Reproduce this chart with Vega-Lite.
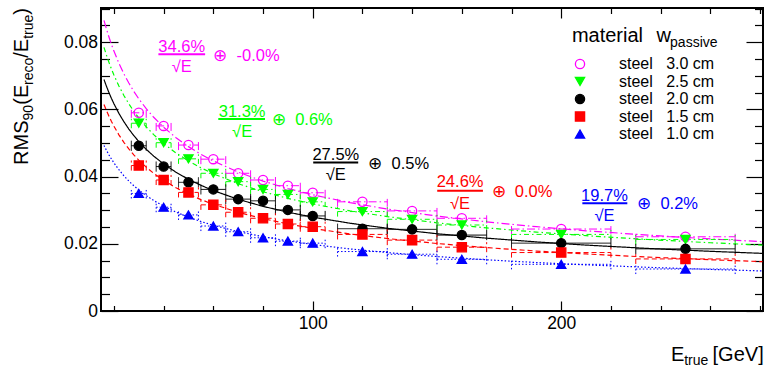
{
  "$schema": "https://vega.github.io/schema/vega-lite/v6.json",
  "width": 662,
  "height": 303,
  "autosize": {"type": "none"},
  "padding": {"left": 101, "top": 8, "right": 3, "bottom": 58},
  "background": "white",
  "config": {
    "font": "Liberation Sans",
    "view": {"stroke": "black", "strokeWidth": 2},
    "axis": {"grid": false, "domain": false, "tickColor": "black", "tickWidth": 1.2, "labelColor": "black", "labelFont": "Liberation Sans", "labelFontSize": 17.5, "title": null, "labelOverlap": false, "labelFlush": false},
    "text": {"font": "Liberation Sans"}
  },
  "datasets": {
    "pts": [
      {"w":"3.0 cm","E":30,"elo":27,"ehi":33,"rms":0.0590,"lo":0.0575,"hi":0.0605},
      {"w":"3.0 cm","E":40,"elo":37,"ehi":43,"rms":0.0551,"lo":0.0536,"hi":0.0566},
      {"w":"3.0 cm","E":50,"elo":46,"ehi":54,"rms":0.0494,"lo":0.0479,"hi":0.0509},
      {"w":"3.0 cm","E":60,"elo":55,"ehi":65,"rms":0.0452,"lo":0.0437,"hi":0.0467},
      {"w":"3.0 cm","E":70,"elo":65,"ehi":75,"rms":0.0410,"lo":0.0395,"hi":0.0425},
      {"w":"3.0 cm","E":80,"elo":75,"ehi":85,"rms":0.0390,"lo":0.0375,"hi":0.0405},
      {"w":"3.0 cm","E":90,"elo":85,"ehi":95,"rms":0.0373,"lo":0.0358,"hi":0.0388},
      {"w":"3.0 cm","E":100,"elo":95,"ehi":105,"rms":0.0352,"lo":0.0337,"hi":0.0367},
      {"w":"3.0 cm","E":120,"elo":110,"ehi":130,"rms":0.0325,"lo":0.0310,"hi":0.0340},
      {"w":"3.0 cm","E":140,"elo":130,"ehi":150,"rms":0.0298,"lo":0.0283,"hi":0.0313},
      {"w":"3.0 cm","E":160,"elo":150,"ehi":170,"rms":0.0276,"lo":0.0261,"hi":0.0291},
      {"w":"3.0 cm","E":200,"elo":180,"ehi":220,"rms":0.0244,"lo":0.0229,"hi":0.0259},
      {"w":"3.0 cm","E":250,"elo":230,"ehi":270,"rms":0.0221,"lo":0.0206,"hi":0.0236},
      {"w":"2.5 cm","E":30,"elo":27,"ehi":33,"rms":0.0559,"lo":0.0544,"hi":0.0574},
      {"w":"2.5 cm","E":40,"elo":37,"ehi":43,"rms":0.0501,"lo":0.0486,"hi":0.0516},
      {"w":"2.5 cm","E":50,"elo":46,"ehi":54,"rms":0.0453,"lo":0.0438,"hi":0.0468},
      {"w":"2.5 cm","E":60,"elo":55,"ehi":65,"rms":0.0410,"lo":0.0395,"hi":0.0425},
      {"w":"2.5 cm","E":70,"elo":65,"ehi":75,"rms":0.0385,"lo":0.0370,"hi":0.0400},
      {"w":"2.5 cm","E":80,"elo":75,"ehi":85,"rms":0.0362,"lo":0.0347,"hi":0.0377},
      {"w":"2.5 cm","E":90,"elo":85,"ehi":95,"rms":0.0347,"lo":0.0332,"hi":0.0362},
      {"w":"2.5 cm","E":100,"elo":95,"ehi":105,"rms":0.0325,"lo":0.0310,"hi":0.0340},
      {"w":"2.5 cm","E":120,"elo":110,"ehi":130,"rms":0.0296,"lo":0.0281,"hi":0.0311},
      {"w":"2.5 cm","E":140,"elo":130,"ehi":150,"rms":0.0273,"lo":0.0258,"hi":0.0288},
      {"w":"2.5 cm","E":160,"elo":150,"ehi":170,"rms":0.0256,"lo":0.0241,"hi":0.0271},
      {"w":"2.5 cm","E":200,"elo":180,"ehi":220,"rms":0.0228,"lo":0.0213,"hi":0.0243},
      {"w":"2.5 cm","E":250,"elo":230,"ehi":270,"rms":0.0213,"lo":0.0198,"hi":0.0228},
      {"w":"2.0 cm","E":30,"elo":27,"ehi":33,"rms":0.0492,"lo":0.0477,"hi":0.0507},
      {"w":"2.0 cm","E":40,"elo":37,"ehi":43,"rms":0.0430,"lo":0.0415,"hi":0.0445},
      {"w":"2.0 cm","E":50,"elo":46,"ehi":54,"rms":0.0383,"lo":0.0368,"hi":0.0398},
      {"w":"2.0 cm","E":60,"elo":55,"ehi":65,"rms":0.0362,"lo":0.0347,"hi":0.0377},
      {"w":"2.0 cm","E":70,"elo":65,"ehi":75,"rms":0.0333,"lo":0.0318,"hi":0.0348},
      {"w":"2.0 cm","E":80,"elo":75,"ehi":85,"rms":0.0328,"lo":0.0313,"hi":0.0343},
      {"w":"2.0 cm","E":90,"elo":85,"ehi":95,"rms":0.0301,"lo":0.0286,"hi":0.0316},
      {"w":"2.0 cm","E":100,"elo":95,"ehi":105,"rms":0.0283,"lo":0.0268,"hi":0.0298},
      {"w":"2.0 cm","E":120,"elo":110,"ehi":130,"rms":0.0245,"lo":0.0230,"hi":0.0260},
      {"w":"2.0 cm","E":140,"elo":130,"ehi":150,"rms":0.0243,"lo":0.0228,"hi":0.0258},
      {"w":"2.0 cm","E":160,"elo":150,"ehi":170,"rms":0.0226,"lo":0.0211,"hi":0.0241},
      {"w":"2.0 cm","E":200,"elo":180,"ehi":220,"rms":0.0202,"lo":0.0187,"hi":0.0217},
      {"w":"2.0 cm","E":250,"elo":230,"ehi":270,"rms":0.0185,"lo":0.0170,"hi":0.0200},
      {"w":"1.5 cm","E":30,"elo":27,"ehi":33,"rms":0.0433,"lo":0.0418,"hi":0.0448},
      {"w":"1.5 cm","E":40,"elo":37,"ehi":43,"rms":0.0390,"lo":0.0375,"hi":0.0405},
      {"w":"1.5 cm","E":50,"elo":46,"ehi":54,"rms":0.0353,"lo":0.0338,"hi":0.0368},
      {"w":"1.5 cm","E":60,"elo":55,"ehi":65,"rms":0.0316,"lo":0.0301,"hi":0.0331},
      {"w":"1.5 cm","E":70,"elo":65,"ehi":75,"rms":0.0294,"lo":0.0279,"hi":0.0309},
      {"w":"1.5 cm","E":80,"elo":75,"ehi":85,"rms":0.0276,"lo":0.0261,"hi":0.0291},
      {"w":"1.5 cm","E":90,"elo":85,"ehi":95,"rms":0.0259,"lo":0.0244,"hi":0.0274},
      {"w":"1.5 cm","E":100,"elo":95,"ehi":105,"rms":0.0251,"lo":0.0236,"hi":0.0266},
      {"w":"1.5 cm","E":120,"elo":110,"ehi":130,"rms":0.0228,"lo":0.0213,"hi":0.0243},
      {"w":"1.5 cm","E":140,"elo":130,"ehi":150,"rms":0.0211,"lo":0.0196,"hi":0.0226},
      {"w":"1.5 cm","E":160,"elo":150,"ehi":170,"rms":0.0190,"lo":0.0175,"hi":0.0205},
      {"w":"1.5 cm","E":200,"elo":180,"ehi":220,"rms":0.0174,"lo":0.0159,"hi":0.0189},
      {"w":"1.5 cm","E":250,"elo":230,"ehi":270,"rms":0.0155,"lo":0.0140,"hi":0.0170},
      {"w":"1.0 cm","E":30,"elo":27,"ehi":33,"rms":0.0350,"lo":0.0335,"hi":0.0365},
      {"w":"1.0 cm","E":40,"elo":37,"ehi":43,"rms":0.0309,"lo":0.0294,"hi":0.0324},
      {"w":"1.0 cm","E":50,"elo":46,"ehi":54,"rms":0.0286,"lo":0.0271,"hi":0.0301},
      {"w":"1.0 cm","E":60,"elo":55,"ehi":65,"rms":0.0253,"lo":0.0238,"hi":0.0268},
      {"w":"1.0 cm","E":70,"elo":65,"ehi":75,"rms":0.0236,"lo":0.0221,"hi":0.0251},
      {"w":"1.0 cm","E":80,"elo":75,"ehi":85,"rms":0.0218,"lo":0.0203,"hi":0.0233},
      {"w":"1.0 cm","E":90,"elo":85,"ehi":95,"rms":0.0208,"lo":0.0193,"hi":0.0223},
      {"w":"1.0 cm","E":100,"elo":95,"ehi":105,"rms":0.0202,"lo":0.0187,"hi":0.0217},
      {"w":"1.0 cm","E":120,"elo":110,"ehi":130,"rms":0.0177,"lo":0.0162,"hi":0.0192},
      {"w":"1.0 cm","E":140,"elo":130,"ehi":150,"rms":0.0169,"lo":0.0154,"hi":0.0184},
      {"w":"1.0 cm","E":160,"elo":150,"ehi":170,"rms":0.0154,"lo":0.0139,"hi":0.0169},
      {"w":"1.0 cm","E":200,"elo":180,"ehi":220,"rms":0.0139,"lo":0.0124,"hi":0.0154},
      {"w":"1.0 cm","E":250,"elo":230,"ehi":270,"rms":0.0125,"lo":0.0110,"hi":0.0140}
    ],
    "fit": [
      {"w":"3.0 cm","E":16,"rms":0.0865},{"w":"3.0 cm","E":17,"rms":0.08392},{"w":"3.0 cm","E":18,"rms":0.08155},{"w":"3.0 cm","E":19,"rms":0.07938},{"w":"3.0 cm","E":20,"rms":0.07737},{"w":"3.0 cm","E":22,"rms":0.07377},{"w":"3.0 cm","E":24,"rms":0.07063},{"w":"3.0 cm","E":26,"rms":0.06786},{"w":"3.0 cm","E":28,"rms":0.06539},{"w":"3.0 cm","E":30,"rms":0.06317},{"w":"3.0 cm","E":33,"rms":0.06023},{"w":"3.0 cm","E":36,"rms":0.05767},{"w":"3.0 cm","E":40,"rms":0.05471},{"w":"3.0 cm","E":45,"rms":0.05158},{"w":"3.0 cm","E":50,"rms":0.04893},{"w":"3.0 cm","E":55,"rms":0.04665},{"w":"3.0 cm","E":60,"rms":0.04467},{"w":"3.0 cm","E":70,"rms":0.04135},{"w":"3.0 cm","E":80,"rms":0.03868},{"w":"3.0 cm","E":90,"rms":0.03647},{"w":"3.0 cm","E":100,"rms":0.0346},{"w":"3.0 cm","E":115,"rms":0.03226},{"w":"3.0 cm","E":130,"rms":0.03035},{"w":"3.0 cm","E":150,"rms":0.02825},{"w":"3.0 cm","E":170,"rms":0.02654},{"w":"3.0 cm","E":190,"rms":0.0251},{"w":"3.0 cm","E":210,"rms":0.02388},{"w":"3.0 cm","E":235,"rms":0.02257},{"w":"3.0 cm","E":260,"rms":0.02146},{"w":"3.0 cm","E":281,"rms":0.02064},
      {"w":"2.5 cm","E":16,"rms":0.07848},{"w":"2.5 cm","E":17,"rms":0.07615},{"w":"2.5 cm","E":18,"rms":0.07402},{"w":"2.5 cm","E":19,"rms":0.07206},{"w":"2.5 cm","E":20,"rms":0.07025},{"w":"2.5 cm","E":22,"rms":0.067},{"w":"2.5 cm","E":24,"rms":0.06417},{"w":"2.5 cm","E":26,"rms":0.06168},{"w":"2.5 cm","E":28,"rms":0.05946},{"w":"2.5 cm","E":30,"rms":0.05746},{"w":"2.5 cm","E":33,"rms":0.05482},{"w":"2.5 cm","E":36,"rms":0.05251},{"w":"2.5 cm","E":40,"rms":0.04985},{"w":"2.5 cm","E":45,"rms":0.04704},{"w":"2.5 cm","E":50,"rms":0.04467},{"w":"2.5 cm","E":55,"rms":0.04263},{"w":"2.5 cm","E":60,"rms":0.04085},{"w":"2.5 cm","E":70,"rms":0.03789},{"w":"2.5 cm","E":80,"rms":0.0355},{"w":"2.5 cm","E":90,"rms":0.03353},{"w":"2.5 cm","E":100,"rms":0.03187},{"w":"2.5 cm","E":115,"rms":0.0298},{"w":"2.5 cm","E":130,"rms":0.0281},{"w":"2.5 cm","E":150,"rms":0.02625},{"w":"2.5 cm","E":170,"rms":0.02474},{"w":"2.5 cm","E":190,"rms":0.02349},{"w":"2.5 cm","E":210,"rms":0.02242},{"w":"2.5 cm","E":235,"rms":0.02128},{"w":"2.5 cm","E":260,"rms":0.02032},{"w":"2.5 cm","E":281,"rms":0.01961},
      {"w":"2.0 cm","E":16,"rms":0.06893},{"w":"2.0 cm","E":17,"rms":0.06688},{"w":"2.0 cm","E":18,"rms":0.06501},{"w":"2.0 cm","E":19,"rms":0.06329},{"w":"2.0 cm","E":20,"rms":0.0617},{"w":"2.0 cm","E":22,"rms":0.05884},{"w":"2.0 cm","E":24,"rms":0.05636},{"w":"2.0 cm","E":26,"rms":0.05416},{"w":"2.0 cm","E":28,"rms":0.05221},{"w":"2.0 cm","E":30,"rms":0.05046},{"w":"2.0 cm","E":33,"rms":0.04813},{"w":"2.0 cm","E":36,"rms":0.04611},{"w":"2.0 cm","E":40,"rms":0.04377},{"w":"2.0 cm","E":45,"rms":0.0413},{"w":"2.0 cm","E":50,"rms":0.03921},{"w":"2.0 cm","E":55,"rms":0.03742},{"w":"2.0 cm","E":60,"rms":0.03585},{"w":"2.0 cm","E":70,"rms":0.03325},{"w":"2.0 cm","E":80,"rms":0.03115},{"w":"2.0 cm","E":90,"rms":0.02942},{"w":"2.0 cm","E":100,"rms":0.02795},{"w":"2.0 cm","E":115,"rms":0.02613},{"w":"2.0 cm","E":130,"rms":0.02463},{"w":"2.0 cm","E":150,"rms":0.023},{"w":"2.0 cm","E":170,"rms":0.02168},{"w":"2.0 cm","E":190,"rms":0.02057},{"w":"2.0 cm","E":210,"rms":0.01962},{"w":"2.0 cm","E":235,"rms":0.01862},{"w":"2.0 cm","E":260,"rms":0.01777},{"w":"2.0 cm","E":281,"rms":0.01715},
      {"w":"1.5 cm","E":16,"rms":0.0615},{"w":"1.5 cm","E":17,"rms":0.05966},{"w":"1.5 cm","E":18,"rms":0.05798},{"w":"1.5 cm","E":19,"rms":0.05644},{"w":"1.5 cm","E":20,"rms":0.05501},{"w":"1.5 cm","E":22,"rms":0.05245},{"w":"1.5 cm","E":24,"rms":0.05021},{"w":"1.5 cm","E":26,"rms":0.04824},{"w":"1.5 cm","E":28,"rms":0.04649},{"w":"1.5 cm","E":30,"rms":0.04491},{"w":"1.5 cm","E":33,"rms":0.04282},{"w":"1.5 cm","E":36,"rms":0.041},{"w":"1.5 cm","E":40,"rms":0.0389},{"w":"1.5 cm","E":45,"rms":0.03667},{"w":"1.5 cm","E":50,"rms":0.03479},{"w":"1.5 cm","E":55,"rms":0.03317},{"w":"1.5 cm","E":60,"rms":0.03176},{"w":"1.5 cm","E":70,"rms":0.0294},{"w":"1.5 cm","E":80,"rms":0.0275},{"w":"1.5 cm","E":90,"rms":0.02593},{"w":"1.5 cm","E":100,"rms":0.0246},{"w":"1.5 cm","E":115,"rms":0.02294},{"w":"1.5 cm","E":130,"rms":0.02158},{"w":"1.5 cm","E":150,"rms":0.02009},{"w":"1.5 cm","E":170,"rms":0.01887},{"w":"1.5 cm","E":190,"rms":0.01785},{"w":"1.5 cm","E":210,"rms":0.01698},{"w":"1.5 cm","E":235,"rms":0.01605},{"w":"1.5 cm","E":260,"rms":0.01526},{"w":"1.5 cm","E":281,"rms":0.01468},
      {"w":"1.0 cm","E":16,"rms":0.04929},{"w":"1.0 cm","E":17,"rms":0.04782},{"w":"1.0 cm","E":18,"rms":0.04648},{"w":"1.0 cm","E":19,"rms":0.04524},{"w":"1.0 cm","E":20,"rms":0.0441},{"w":"1.0 cm","E":22,"rms":0.04205},{"w":"1.0 cm","E":24,"rms":0.04026},{"w":"1.0 cm","E":26,"rms":0.03869},{"w":"1.0 cm","E":28,"rms":0.03728},{"w":"1.0 cm","E":30,"rms":0.03602},{"w":"1.0 cm","E":33,"rms":0.03435},{"w":"1.0 cm","E":36,"rms":0.03289},{"w":"1.0 cm","E":40,"rms":0.03121},{"w":"1.0 cm","E":45,"rms":0.02943},{"w":"1.0 cm","E":50,"rms":0.02793},{"w":"1.0 cm","E":55,"rms":0.02664},{"w":"1.0 cm","E":60,"rms":0.02551},{"w":"1.0 cm","E":70,"rms":0.02363},{"w":"1.0 cm","E":80,"rms":0.02212},{"w":"1.0 cm","E":90,"rms":0.02086},{"w":"1.0 cm","E":100,"rms":0.0198},{"w":"1.0 cm","E":115,"rms":0.01848},{"w":"1.0 cm","E":130,"rms":0.01739},{"w":"1.0 cm","E":150,"rms":0.01621},{"w":"1.0 cm","E":170,"rms":0.01524},{"w":"1.0 cm","E":190,"rms":0.01443},{"w":"1.0 cm","E":210,"rms":0.01374},{"w":"1.0 cm","E":235,"rms":0.013},{"w":"1.0 cm","E":260,"rms":0.01238},{"w":"1.0 cm","E":281,"rms":0.01192}
    ]
  },
  "layer": [
    {
      "data": {"name": "fit"},
      "mark": {"type": "line", "strokeWidth": 1.2},
      "encoding": {
        "x": {"field": "E", "type": "quantitative", "scale": {"domain": [14.8, 281.2], "nice": false, "zero": false},
          "axis": {"orient": "bottom", "values": [20,40,60,80,100,120,140,160,180,200,220,240,260,280], "labelExpr": "datum.value % 100 === 0 ? datum.label : ''", "tickSize": {"condition": {"test": "datum.value % 100 === 0", "value": -10}, "value": -5.5}, "labelPadding": 13}},
        "y": {"field": "rms", "type": "quantitative", "scale": {"domain": [0, 0.0902], "nice": false, "zero": false},
          "axis": {"orient": "left", "values": [0,0.005,0.01,0.015,0.02,0.025,0.03,0.035,0.04,0.045,0.05,0.055,0.06,0.065,0.07,0.075,0.08,0.085,0.09], "format": ".2~f", "labelExpr": "round(datum.value*1000) % 20 === 0 ? datum.label : ''", "tickSize": {"condition": {"test": "round(datum.value*1000) % 20 === 0", "value": -17}, "value": -8.5}, "labelPadding": 20.5}},
        "color": {"field": "w", "type": "nominal", "scale": {"domain": ["1.0 cm","1.5 cm","2.0 cm","2.5 cm","3.0 cm"], "range": ["#0000ff","#ff0000","#000000","#00ff00","#ff00ff"]}, "legend": null},
        "strokeDash": {"field": "w", "type": "nominal", "scale": {"domain": ["1.0 cm","1.5 cm","2.0 cm","2.5 cm","3.0 cm"], "range": [[1.5,2],[5,3],[1,0],[5,3,1.5,3],[8,3,1.5,3]]}, "legend": null}
      }
    },
    {
      "data": {"name": "pts"},
      "mark": {"type": "rule", "strokeWidth": 1},
      "encoding": {
        "x": {"field": "elo", "type": "quantitative", "scale": {"domain": [14.8, 281.2], "nice": false, "zero": false},
          "axis": {"orient": "top", "values": [20,40,60,80,100,120,140,160,180,200,220,240,260,280], "labels": false, "tickSize": {"condition": {"test": "datum.value % 100 === 0", "value": -10}, "value": -5.5}}},
        "x2": {"field": "ehi"},
        "y": {"field": "rms", "type": "quantitative", "scale": {"domain": [0, 0.0902], "nice": false, "zero": false},
          "axis": {"orient": "right", "values": [0,0.005,0.01,0.015,0.02,0.025,0.03,0.035,0.04,0.045,0.05,0.055,0.06,0.065,0.07,0.075,0.08,0.085,0.09], "labels": false, "tickSize": {"condition": {"test": "round(datum.value*1000) % 20 === 0", "value": -17}, "value": -8.5}}},
        "color": {"field": "w", "type": "nominal", "scale": {"domain": ["1.0 cm","1.5 cm","2.0 cm","2.5 cm","3.0 cm"], "range": ["#0000ff","#ff0000","#000000","#00ff00","#ff00ff"]}, "legend": null},
        "strokeDash": {"field": "w", "type": "nominal", "scale": {"domain": ["1.0 cm","1.5 cm","2.0 cm","2.5 cm","3.0 cm"], "range": [[1.5,2],[5,3],[1,0],[5,3,1.5,3],[8,3,1.5,3]]}, "legend": null}
      }
    },
    {
      "data": {"name": "pts"},
      "mark": {"type": "rule", "strokeWidth": 1},
      "encoding": {
        "x": {"field": "elo", "type": "quantitative", "scale": {"domain": [14.8, 281.2], "nice": false, "zero": false}, "axis": null},
        "y": {"field": "lo", "type": "quantitative", "scale": {"domain": [0, 0.0902], "nice": false, "zero": false}, "axis": null},
        "y2": {"field": "hi"},
        "color": {"field": "w", "type": "nominal", "scale": {"domain": ["1.0 cm","1.5 cm","2.0 cm","2.5 cm","3.0 cm"], "range": ["#0000ff","#ff0000","#000000","#00ff00","#ff00ff"]}, "legend": null},
        "strokeDash": {"field": "w", "type": "nominal", "scale": {"domain": ["1.0 cm","1.5 cm","2.0 cm","2.5 cm","3.0 cm"], "range": [[1.5,2],[5,3],[1,0],[5,3,1.5,3],[8,3,1.5,3]]}, "legend": null}
      }
    },
    {
      "data": {"name": "pts"},
      "mark": {"type": "rule", "strokeWidth": 1},
      "encoding": {
        "x": {"field": "ehi", "type": "quantitative", "scale": {"domain": [14.8, 281.2], "nice": false, "zero": false}, "axis": null},
        "y": {"field": "lo", "type": "quantitative", "scale": {"domain": [0, 0.0902], "nice": false, "zero": false}, "axis": null},
        "y2": {"field": "hi"},
        "color": {"field": "w", "type": "nominal", "scale": {"domain": ["1.0 cm","1.5 cm","2.0 cm","2.5 cm","3.0 cm"], "range": ["#0000ff","#ff0000","#000000","#00ff00","#ff00ff"]}, "legend": null},
        "strokeDash": {"field": "w", "type": "nominal", "scale": {"domain": ["1.0 cm","1.5 cm","2.0 cm","2.5 cm","3.0 cm"], "range": [[1.5,2],[5,3],[1,0],[5,3,1.5,3],[8,3,1.5,3]]}, "legend": null}
      }
    },
    {
      "data": {"name": "pts"},
      "mark": {"type": "point", "filled": true, "opacity": 1, "size": 85, "strokeWidth": 1.3},
      "encoding": {
        "x": {"field": "E", "type": "quantitative", "scale": {"domain": [14.8, 281.2], "nice": false, "zero": false}, "axis": null},
        "y": {"field": "rms", "type": "quantitative", "scale": {"domain": [0, 0.0902], "nice": false, "zero": false}, "axis": null},
        "shape": {"field": "w", "type": "nominal", "scale": {"domain": ["3.0 cm","2.5 cm","2.0 cm","1.5 cm","1.0 cm"], "range": ["circle","triangle-down","circle","square","triangle-up"]},
          "legend": {"title": null, "orient": "top-right", "offset": 48, "padding": 0, "labelFont": "Liberation Sans", "labelFontSize": 16, "labelColor": "black", "labelExpr": "'steel\u00a0\u00a0\u00a0' + datum.label", "labelLimit": 300, "labelOffset": 31, "rowPadding": 1.5, "symbolSize": 85, "symbolStrokeWidth": 1.3}},
        "fill": {"field": "w", "type": "nominal", "scale": {"domain": ["3.0 cm","2.5 cm","2.0 cm","1.5 cm","1.0 cm"], "range": ["transparent","#00ff00","#000000","#ff0000","#0000ff"]},
          "legend": {"title": null, "orient": "top-right", "offset": 48, "padding": 0, "labelFont": "Liberation Sans", "labelFontSize": 16, "labelColor": "black", "labelExpr": "'steel\u00a0\u00a0\u00a0' + datum.label", "labelLimit": 300, "labelOffset": 31, "rowPadding": 1.5, "symbolSize": 85, "symbolStrokeWidth": 1.3}},
        "stroke": {"field": "w", "type": "nominal", "scale": {"domain": ["3.0 cm","2.5 cm","2.0 cm","1.5 cm","1.0 cm"], "range": ["#ff00ff","#00ff00","#000000","#ff0000","#0000ff"]},
          "legend": {"title": null, "orient": "top-right", "offset": 48, "padding": 0, "labelFont": "Liberation Sans", "labelFontSize": 16, "labelColor": "black", "labelExpr": "'steel\u00a0\u00a0\u00a0' + datum.label", "labelLimit": 300, "labelOffset": 31, "rowPadding": 1.5, "symbolSize": 85, "symbolStrokeWidth": 1.3}}
      }
    },
    {
      "data": {"values": [
        {"t": "34.6%", "x": 47.3, "y": 0.07719, "c": "3.0 cm"},
        {"t": "\u221aE", "x": 47.3, "y": 0.07106, "c": "3.0 cm"},
        {"t": "31.3%", "x": 71.6, "y": 0.05784, "c": "2.5 cm"},
        {"t": "\u221aE", "x": 71.6, "y": 0.0518, "c": "2.5 cm"},
        {"t": "27.5%", "x": 109.3, "y": 0.04495, "c": "2.0 cm"},
        {"t": "\u221aE", "x": 109.3, "y": 0.03885, "c": "2.0 cm"},
        {"t": "24.6%", "x": 159.3, "y": 0.03683, "c": "1.5 cm"},
        {"t": "\u221aE", "x": 159.3, "y": 0.0305, "c": "1.5 cm"},
        {"t": "19.7%", "x": 217.4, "y": 0.03284, "c": "1.0 cm"},
        {"t": "\u221aE", "x": 217.4, "y": 0.0267, "c": "1.0 cm"}
      ]},
      "mark": {"type": "text", "align": "center", "baseline": "alphabetic", "fontSize": 16.5},
      "encoding": {
        "x": {"field": "x", "type": "quantitative", "scale": {"domain": [14.8, 281.2], "nice": false, "zero": false}, "axis": null},
        "y": {"field": "y", "type": "quantitative", "scale": {"domain": [0, 0.0902], "nice": false, "zero": false}, "axis": null},
        "text": {"field": "t"},
        "color": {"field": "c", "type": "nominal", "scale": {"domain": ["1.0 cm","1.5 cm","2.0 cm","2.5 cm","3.0 cm"], "range": ["#0000ff","#ff0000","#000000","#00ff00","#ff00ff"]}, "legend": null}
      }
    },
    {
      "data": {"values": [
        {"t": "\u2295\u00a0\u00a0-0.0%", "x": 60.0, "y": 0.07443, "c": "3.0 cm"},
        {"t": "\u2295\u00a0\u00a00.6%", "x": 83.6, "y": 0.05537, "c": "2.5 cm"},
        {"t": "\u2295\u00a0\u00a00.5%", "x": 122.4, "y": 0.04227, "c": "2.0 cm"},
        {"t": "\u2295\u00a0\u00a00.0%", "x": 172.0, "y": 0.0340, "c": "1.5 cm"},
        {"t": "\u2295\u00a0\u00a00.2%", "x": 230.6, "y": 0.0303, "c": "1.0 cm"}
      ]},
      "mark": {"type": "text", "align": "left", "baseline": "alphabetic", "fontSize": 16.5},
      "encoding": {
        "x": {"field": "x", "type": "quantitative", "scale": {"domain": [14.8, 281.2], "nice": false, "zero": false}, "axis": null},
        "y": {"field": "y", "type": "quantitative", "scale": {"domain": [0, 0.0902], "nice": false, "zero": false}, "axis": null},
        "text": {"field": "t"},
        "color": {"field": "c", "type": "nominal", "scale": {"domain": ["1.0 cm","1.5 cm","2.0 cm","2.5 cm","3.0 cm"], "range": ["#0000ff","#ff0000","#000000","#00ff00","#ff00ff"]}, "legend": null}
      }
    },
    {
      "data": {"values": [
        {"x1": 37.9, "x2": 56.7, "y": 0.07642, "c": "3.0 cm"},
        {"x1": 62.0, "x2": 80.8, "y": 0.05716, "c": "2.5 cm"},
        {"x1": 100.2, "x2": 118.3, "y": 0.04421, "c": "2.0 cm"},
        {"x1": 150.1, "x2": 168.5, "y": 0.0358, "c": "1.5 cm"},
        {"x1": 208.5, "x2": 226.6, "y": 0.03206, "c": "1.0 cm"}
      ]},
      "mark": {"type": "rule", "strokeWidth": 2},
      "encoding": {
        "x": {"field": "x1", "type": "quantitative", "scale": {"domain": [14.8, 281.2], "nice": false, "zero": false}, "axis": null},
        "x2": {"field": "x2"},
        "y": {"field": "y", "type": "quantitative", "scale": {"domain": [0, 0.0902], "nice": false, "zero": false}, "axis": null},
        "color": {"field": "c", "type": "nominal", "scale": {"domain": ["1.0 cm","1.5 cm","2.0 cm","2.5 cm","3.0 cm"], "range": ["#0000ff","#ff0000","#000000","#00ff00","#ff00ff"]}, "legend": null}
      }
    },
    {
      "data": {"values": [
        {"t": "material", "x": 204.3, "y": 0.0800},
        {"t": "w", "x": 238.3, "y": 0.0800},
        {"t": "E", "x": 244.2, "y": -0.01503},
        {"t": "[GeV]", "x": 260.9, "y": -0.01503}
      ]},
      "mark": {"type": "text", "align": "left", "baseline": "alphabetic", "fontSize": 20, "color": "black"},
      "encoding": {
        "x": {"field": "x", "type": "quantitative", "scale": {"domain": [14.8, 281.2], "nice": false, "zero": false}, "axis": null},
        "y": {"field": "y", "type": "quantitative", "scale": {"domain": [0, 0.0902], "nice": false, "zero": false}, "axis": null},
        "text": {"field": "t"}
      }
    },
    {
      "data": {"values": [
        {"t": "passive", "x": 243.8, "y": 0.0786},
        {"t": "true", "x": 249.5, "y": -0.01622}
      ]},
      "mark": {"type": "text", "align": "left", "baseline": "alphabetic", "fontSize": 14, "color": "black"},
      "encoding": {
        "x": {"field": "x", "type": "quantitative", "scale": {"domain": [14.8, 281.2], "nice": false, "zero": false}, "axis": null},
        "y": {"field": "y", "type": "quantitative", "scale": {"domain": [0, 0.0902], "nice": false, "zero": false}, "axis": null},
        "text": {"field": "t"}
      }
    },
    {
      "data": {"values": [
        {"t": "RMS", "x": -14.4, "y": 0.04347},
        {"t": "(E", "x": -14.4, "y": 0.06139},
        {"t": "/E", "x": -14.4, "y": 0.07538},
        {"t": ")", "x": -14.4, "y": 0.08818}
      ]},
      "mark": {"type": "text", "align": "left", "baseline": "alphabetic", "fontSize": 20, "angle": 270, "color": "black"},
      "encoding": {
        "x": {"field": "x", "type": "quantitative", "scale": {"domain": [14.8, 281.2], "nice": false, "zero": false}, "axis": null},
        "y": {"field": "y", "type": "quantitative", "scale": {"domain": [0, 0.0902], "nice": false, "zero": false}, "axis": null},
        "text": {"field": "t"}
      }
    },
    {
      "data": {"values": [
        {"t": "90", "x": -12.76, "y": 0.05668},
        {"t": "reco", "x": -12.76, "y": 0.06728},
        {"t": "true", "x": -12.76, "y": 0.08101}
      ]},
      "mark": {"type": "text", "align": "left", "baseline": "alphabetic", "fontSize": 14, "angle": 270, "color": "black"},
      "encoding": {
        "x": {"field": "x", "type": "quantitative", "scale": {"domain": [14.8, 281.2], "nice": false, "zero": false}, "axis": null},
        "y": {"field": "y", "type": "quantitative", "scale": {"domain": [0, 0.0902], "nice": false, "zero": false}, "axis": null},
        "text": {"field": "t"}
      }
    }
  ],
  "resolve": {"axis": {"x": "independent", "y": "independent"}}
}
